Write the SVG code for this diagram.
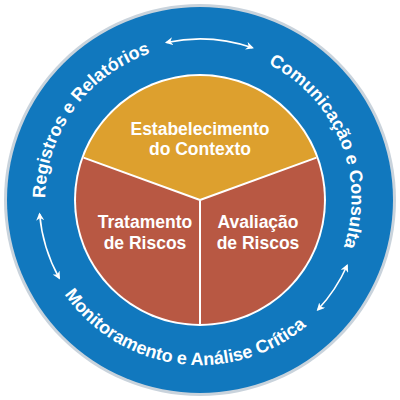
<svg xmlns="http://www.w3.org/2000/svg" xmlns:xlink="http://www.w3.org/1999/xlink" width="400" height="400" viewBox="0 0 400 400">
  <style>
    .slice-label { font-family: "Liberation Sans", Arial, sans-serif; font-weight: bold; font-size: 17.5px; fill: #ffffff; text-anchor: middle; }
    .ring-label { font-family: "Liberation Sans", Arial, sans-serif; font-weight: bold; font-size: 18px; fill: #ffffff; }
    .arrow { fill: none; stroke: #ffffff; stroke-width: 1.6; marker-start: url(#head); marker-end: url(#head); }
    .divider { fill: none; stroke: #ffffff; stroke-width: 2; }
  </style>
  <defs>
    <marker id="head" viewBox="0 0 10 10" refX="8" refY="5" markerWidth="5" markerHeight="5" orient="auto-start-reverse" markerUnits="strokeWidth">
      <path d="M0,0 L10,5 L0,10 L3,5 Z" fill="#ffffff"/>
    </marker>
    <path id="p-registros" d="M47.4,226.9 A155,155 0 0 1 178.4,46.5"/>
    <path id="p-comunicacao" d="M246.4,55.3 A151,151 0 0 1 334.5,268.6"/>
    <path id="p-monitoramento" d="M38.9,235.7 A165,165 0 0 0 346.4,276.2"/>
  </defs>

  <g id="ring">
    <circle cx="200" cy="200" r="196" fill="#C9D3DC"/>
    <circle cx="200" cy="200" r="193" fill="#1178BE"/>
    <circle cx="200" cy="200" r="126" fill="#ffffff"/>
  </g>

  <g id="estabelecimento">
    <path d="M200,200 L83.5,157.6 A124,124 0 0 1 316.5,157.6 Z" fill="#DDA02E"/>
    <text class="slice-label" x="200" y="135">Estabelecimento</text>
    <text class="slice-label" x="200" y="155">do Contexto</text>
  </g>
  <g id="avaliacao">
    <path d="M200,200 L316.5,157.6 A124,124 0 0 1 200,324 Z" fill="#B85843"/>
    <text class="slice-label" x="258" y="228">Avaliação</text>
    <text class="slice-label" x="258" y="249">de Riscos</text>
  </g>
  <g id="tratamento">
    <path d="M200,200 L200,324 A124,124 0 0 1 83.5,157.6 Z" fill="#B85843"/>
    <text class="slice-label" x="145" y="228">Tratamento</text>
    <text class="slice-label" x="145" y="249">de Riscos</text>
  </g>
  <g id="dividers">
    <path class="divider" d="M200,200 L83.5,157.6 M200,200 L316.5,157.6 M200,200 L200,324"/>
  </g>

  <g id="registros">
    <text class="ring-label"><textPath xlink:href="#p-registros" href="#p-registros" startOffset="50%" text-anchor="middle">Registros e Relatórios</textPath></text>
  </g>
  <g id="comunicacao">
    <text class="ring-label"><textPath xlink:href="#p-comunicacao" href="#p-comunicacao" startOffset="50%" text-anchor="middle">Comunicação e Consulta</textPath></text>
  </g>
  <g id="monitoramento">
    <text class="ring-label"><textPath xlink:href="#p-monitoramento" href="#p-monitoramento" startOffset="50%" text-anchor="middle">Monitoramento e Análise Crítica</textPath></text>
  </g>

  <g id="connectors">
    <path class="arrow" d="M166.5,42.5 A161,161 0 0 1 252.4,47.8"/>
    <path class="arrow" d="M39.6,214 A161,161 0 0 0 59.2,278.1"/>
    <path class="arrow" d="M347.1,265.5 A161,161 0 0 1 317.8,309.8"/>
  </g>
</svg>
